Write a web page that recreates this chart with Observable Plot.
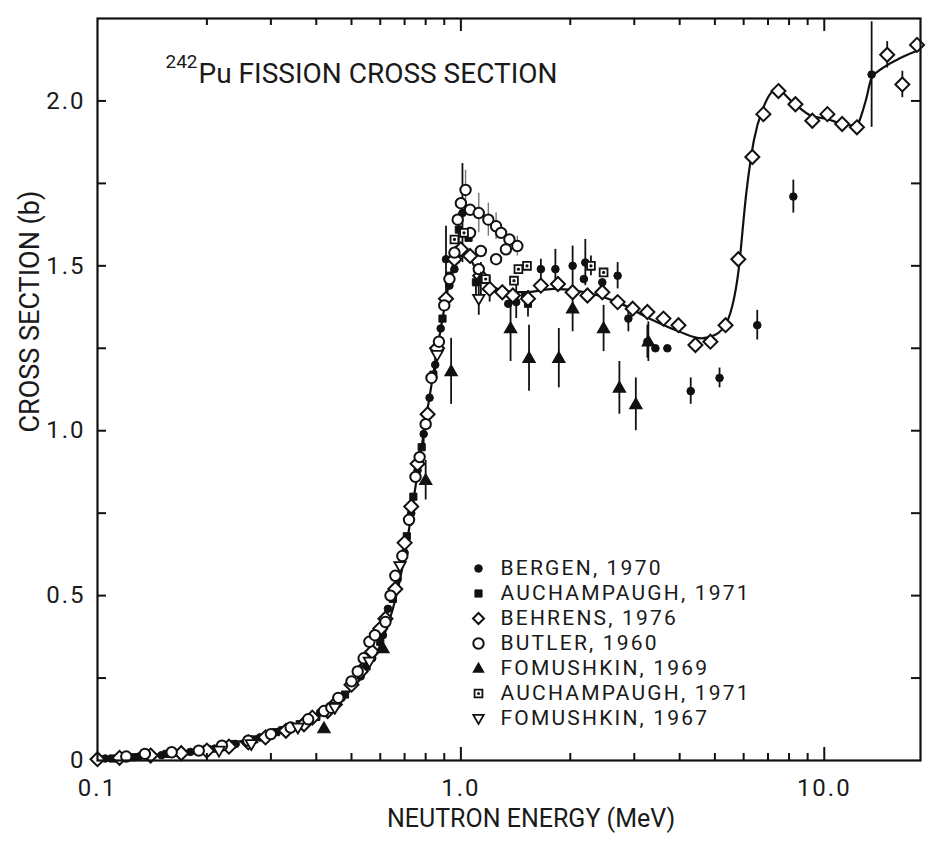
<!DOCTYPE html>
<html>
<head>
<meta charset="utf-8">
<script src="https://cdn.jsdelivr.net/npm/d3@7"></script>
<script src="https://cdn.jsdelivr.net/npm/@observablehq/plot@0.6"></script>
<style>
  html, body { margin: 0; padding: 0; background: #fff; }
  #chart svg text { font-family: Roboto, "DejaVu Sans", sans-serif; fill: #1a1a1a; }
  #chart svg g[aria-label$="axis"] text, #chart svg g[aria-label*="tick label"] text { font-size: 24px; letter-spacing: 2px; }
</style>
</head>
<body>
<div id="chart"></div>
<script>
// ---- Evaluated curve (solid line) ----
const curveE = [0.1,0.12,0.14,0.17,0.2,0.25,0.3,0.35,0.4,0.45,0.5,0.55,0.6,0.65,0.7,0.75,0.8,0.85,0.9,0.95,1.0,1.05,1.1,1.2,1.3,1.5,1.8,2.2,2.7,3.3,4.0,4.6,5.0,5.4,5.8,6.1,6.4,6.8,7.4,8.2,9.2,10.2,11.2,12.2,13.0,13.5,14.5,16.2,18.3];
const curveS = [0.005,0.010,0.016,0.026,0.038,0.060,0.082,0.108,0.140,0.175,0.215,0.275,0.35,0.46,0.62,0.83,1.03,1.21,1.37,1.50,1.55,1.53,1.49,1.445,1.425,1.42,1.43,1.42,1.39,1.34,1.30,1.28,1.29,1.33,1.48,1.72,1.88,1.98,2.035,1.995,1.955,1.945,1.93,1.925,2.0,2.07,2.10,2.13,2.155];

// ---- Measured data: [energy MeV, cross section b, error b] ----
const bergen1970 = [[0.105,0.006,0],[0.13,0.012,0],[0.15,0.016,0],[0.18,0.026,0],[0.21,0.036,0],[0.24,0.05,0],[0.28,0.07,0],[0.32,0.092,0],[0.37,0.118,0],[0.41,0.146,0],[0.47,0.19,0],[0.53,0.255,0],[0.57,0.31,0],[0.61,0.38,0],[0.63,0.46,0],[0.67,0.55,0],[0.7,0.63,0.03],[0.73,0.75,0.04],[0.76,0.88,0],[0.79,0.99,0.04],[0.82,1.1,0],[0.85,1.2,0.04],[0.88,1.31,0],[0.91,1.52,0.1],[0.93,1.44,0],[0.96,1.49,0],[0.98,1.55,0],[1.01,1.66,0.15],[1.35,1.385,0],[1.42,1.39,0.05],[1.5,1.41,0],[1.66,1.49,0.03],[1.82,1.49,0.06],[2.03,1.50,0.06],[2.2,1.51,0.07],[2.18,1.46,0],[2.45,1.45,0],[2.7,1.47,0.04],[2.89,1.34,0.04],[3.26,1.27,0.05],[3.43,1.25,0],[3.7,1.25,0],[4.29,1.12,0.04],[5.15,1.16,0.03],[6.54,1.32,0.045],[7.48,2.03,0],[8.22,1.71,0.05],[13.5,2.08,0.16]];
const auchampaugh1971a = [[0.11,0.006,0],[0.125,0.01,0],[0.155,0.02,0],[0.2,0.035,0],[0.235,0.05,0],[0.27,0.064,0],[0.31,0.086,0],[0.36,0.11,0],[0.4,0.132,0],[0.48,0.2,0],[0.55,0.285,0],[0.6,0.36,0],[0.65,0.49,0],[0.71,0.68,0],[0.74,0.8,0],[0.78,0.95,0],[0.84,1.17,0],[0.89,1.34,0],[0.93,1.47,0],[0.97,1.52,0],[0.987,1.61,0.05],[1.05,1.585,0],[1.1,1.45,0.04],[1.2,1.43,0.04],[1.53,1.385,0.04]];
const behrens1976 = [[0.1,0.004,0],[0.115,0.008,0],[0.14,0.015,0],[0.17,0.022,0],[0.2,0.03,0],[0.23,0.042,0],[0.26,0.055,0],[0.29,0.07,0],[0.33,0.09,0],[0.37,0.11,0],[0.39,0.13,0],[0.43,0.15,0],[0.45,0.17,0],[0.5,0.23,0],[0.53,0.27,0],[0.57,0.33,0],[0.6,0.4,0],[0.62,0.43,0],[0.66,0.52,0],[0.7,0.66,0],[0.73,0.77,0],[0.76,0.9,0],[0.81,1.05,0],[0.86,1.25,0],[0.91,1.4,0],[0.96,1.52,0],[1.0,1.55,0],[1.06,1.53,0],[1.13,1.47,0],[1.2,1.43,0],[1.3,1.42,0],[1.39,1.41,0],[1.53,1.40,0],[1.66,1.44,0],[1.85,1.445,0],[2.03,1.42,0],[2.23,1.41,0],[2.45,1.42,0],[2.7,1.39,0],[2.97,1.37,0],[3.26,1.36,0],[3.61,1.34,0],[3.97,1.32,0],[4.42,1.26,0],[4.86,1.27,0],[5.35,1.32,0],[5.8,1.52,0],[6.34,1.83,0],[6.8,1.96,0],[7.48,2.03,0],[8.33,1.99,0],[9.27,1.94,0],[10.2,1.96,0],[11.2,1.93,0],[12.3,1.92,0],[14.9,2.14,0.04],[16.4,2.05,0.04],[18.0,2.17,0]];
const butler1960 = [[0.12,0.012,0],[0.135,0.02,0],[0.16,0.025,0],[0.19,0.03,0],[0.22,0.045,0],[0.26,0.06,0],[0.3,0.08,0],[0.34,0.1,0],[0.38,0.125,0],[0.42,0.15,0],[0.44,0.16,0],[0.46,0.19,0],[0.5,0.24,0],[0.52,0.27,0],[0.54,0.31,0],[0.56,0.36,0],[0.58,0.38,0],[0.62,0.42,0],[0.64,0.5,0],[0.66,0.56,0],[0.69,0.62,0],[0.72,0.73,0],[0.75,0.86,0],[0.77,0.92,0],[0.8,1.02,0],[0.83,1.16,0],[0.87,1.27,0],[0.9,1.38,0],[0.93,1.46,0],[0.96,1.54,0],[0.98,1.64,0],[1.0,1.69,0],[1.03,1.73,0.06],[1.06,1.67,0],[1.12,1.66,0.06],[1.19,1.64,0.05],[1.25,1.62,0.04],[1.29,1.60,0],[1.36,1.58,0],[1.43,1.56,0.03],[1.33,1.55,0],[1.25,1.52,0],[1.135,1.545,0],[1.12,1.49,0],[1.06,1.60,0]];
const fomushkin1969 = [[0.42,0.097,0],[0.61,0.34,0],[0.8,0.85,0.06],[0.94,1.18,0.1],[1.135,1.46,0.05],[1.37,1.31,0.1],[1.54,1.22,0.1],[1.86,1.22,0.09],[2.03,1.37,0.07],[2.47,1.31,0.07],[2.73,1.13,0.08],[3.03,1.08,0.08],[3.28,1.27,0.06]];
const auchampaugh1971b = [[0.96,1.58,0],[1.02,1.60,0],[1.17,1.46,0],[1.40,1.455,0],[1.44,1.49,0],[1.52,1.50,0],[2.28,1.50,0.03],[2.47,1.48,0]];
const fomushkin1967 = [[0.216,0.03,0],[0.265,0.05,0],[0.356,0.1,0],[0.45,0.16,0],[0.56,0.3,0],[0.68,0.59,0],[0.86,1.23,0],[1.12,1.40,0.05]];

// ---- Legend and axis text ----
const legendLabels = ["BERGEN, 1970","AUCHAMPAUGH, 1971","BEHRENS, 1976","BUTLER, 1960","FOMUSHKIN, 1969","AUCHAMPAUGH, 1971","FOMUSHKIN, 1967"];
const xLabelTicks = [0.1, 1, 10];
const xMajorTicks = [1, 10];
const xMinorTicks = [0.2,0.3,0.4,0.5,0.6,0.7,0.8,0.9,2,3,4,5,6,7,8,9];
const yLabelTicks = [0, 0.5, 1.0, 1.5, 2.0];
const yAllTicks = [0.25,0.5,0.75,1.0,1.25,1.5,1.75,2.0];
const titleIso = "242";
const titleMain = "Pu FISSION CROSS SECTION";
const xTitle = "NEUTRON ENERGY (MeV)";
const yTitle = "CROSS SECTION (b)";

// ---- layout ----
const W = 933, H = 843;
const mL = 97, mR = 13, mT = 18, mB = 83;
const xDomain = [0.1, 18.4], yDomain = [0, 2.25];
const xs = d3.scaleLog(xDomain, [mL, W - mR]);
const ys = d3.scaleLinear(yDomain, [H - mB, mT]);
const pxY = (p) => (yDomain[1] - yDomain[0]) / (H - mB - mT) * p; // px -> y units
const pxXfac = (p) => Math.pow(xDomain[1] / xDomain[0], p / (W - mR - mL)); // px -> x factor

// ---- symbols ----
const rOf = (size) => Math.sqrt(size / Math.PI);
const diamondSym = {draw(c, s){const r=rOf(s); c.moveTo(0,-r); c.lineTo(r,0); c.lineTo(0,r); c.lineTo(-r,0); c.closePath();}};
const squareSym = {draw(c, s){const r=rOf(s)*0.85; c.rect(-r,-r,2*r,2*r);}};
const triUpSym = {draw(c, s){const r=rOf(s); c.moveTo(0,-r); c.lineTo(r*0.95,r*0.65); c.lineTo(-r*0.95,r*0.65); c.closePath();}};
const triDownSym = {draw(c, s){const r=rOf(s); c.moveTo(0,r); c.lineTo(r*0.95,-r*0.65); c.lineTo(-r*0.95,-r*0.65); c.closePath();}};

const series = [
  {data: bergen1970, symbol: "circle", r: 3.8, fill: "#111", stroke: "#111", sw: 1},
  {data: auchampaugh1971a, symbol: squareSym, r: 4.2, fill: "#111", stroke: "#111", sw: 1},
  {data: behrens1976, symbol: diamondSym, r: 7, fill: "white", stroke: "#111", sw: 2},
  {data: butler1960, symbol: "circle", r: 5.2, fill: "white", stroke: "#111", sw: 2},
  {data: fomushkin1969, symbol: triUpSym, r: 6.5, fill: "#111", stroke: "#111", sw: 1.2},
  {data: auchampaugh1971b, symbol: squareSym, r: 4.6, fill: "white", stroke: "#111", sw: 1.8, dot: true},
  {data: fomushkin1967, symbol: triDownSym, r: 6, fill: "white", stroke: "#111", sw: 1.8}
];

const marks = [];
// error bars
series.forEach((s, i) => {
  marks.push(Plot.ruleX(s.data.filter(d => d[2] > 0), {
    x: d => d[0], y1: d => d[1] - d[2], y2: d => d[1] + d[2],
    stroke: i === 3 ? "#777" : "#111", strokeWidth: i === 3 ? 1.4 : 1.8
  }));
});
// evaluated curve
marks.push(Plot.line(curveE.map((e, i) => [e, curveS[i]]), {x: d => d[0], y: d => d[1], curve: "monotone-x", stroke: "#111", strokeWidth: 2.2}));
// data symbols
series.forEach(s => {
  marks.push(Plot.dot(s.data, {x: d => d[0], y: d => d[1], symbol: s.symbol, r: s.r, fill: s.fill, stroke: s.stroke, strokeWidth: s.sw}));
  if (s.dot) marks.push(Plot.dot(s.data, {x: d => d[0], y: d => d[1], r: 1.6, fill: "#111"}));
});

// ticks (inward) on all four sides
const tMaj = 13, tMin = 7, tY = 9;
marks.push(Plot.ruleX(xMajorTicks, {x: d => d, y1: yDomain[0], y2: yDomain[0] + pxY(tMaj), stroke: "#111", strokeWidth: 2}));
marks.push(Plot.ruleX(xMinorTicks, {x: d => d, y1: yDomain[0], y2: yDomain[0] + pxY(tMin), stroke: "#111", strokeWidth: 2}));
marks.push(Plot.ruleX(xMajorTicks, {x: d => d, y1: yDomain[1], y2: yDomain[1] - pxY(tMaj), stroke: "#111", strokeWidth: 2}));
marks.push(Plot.ruleX(xMinorTicks, {x: d => d, y1: yDomain[1], y2: yDomain[1] - pxY(tMin), stroke: "#111", strokeWidth: 2}));
marks.push(Plot.ruleY(yAllTicks, {y: d => d, x1: xDomain[0], x2: xDomain[0] * pxXfac(tY), stroke: "#111", strokeWidth: 2}));
marks.push(Plot.ruleY(yAllTicks, {y: d => d, x1: xDomain[1], x2: xDomain[1] / pxXfac(tY), stroke: "#111", strokeWidth: 2}));
marks.push(Plot.frame({stroke: "#111", strokeWidth: 2.2}));

// title inside plot
marks.push(Plot.text([titleIso], {frameAnchor: "top-left", dx: 68, dy: 49, textAnchor: "start", lineAnchor: "bottom", fontSize: 19}));
marks.push(Plot.text([titleMain], {frameAnchor: "top-left", dx: 101, dy: 64, textAnchor: "start", lineAnchor: "bottom", fontSize: 28}));
// axis titles
marks.push(Plot.text([xTitle], {frameAnchor: "bottom", dx: 22, dy: 66, lineAnchor: "bottom", fontSize: 25}));
marks.push(Plot.text([yTitle], {frameAnchor: "left", dx: -67, dy: 43, rotate: -90, lineAnchor: "middle", fontSize: 27}));

// legend
const legX = xs.invert(478), legTX = xs.invert(500);
const legY = legendLabels.map((_, i) => ys.invert(568 + 25 * i));
series.forEach((s, i) => {
  marks.push(Plot.dot([i], {x: () => legX, y: () => legY[i], symbol: s.symbol, r: Math.min(s.r, 5.5), fill: s.fill, stroke: s.stroke, strokeWidth: s.sw}));
  if (s.dot) marks.push(Plot.dot([i], {x: () => legX, y: () => legY[i], r: 1.5, fill: "#111"}));
});
marks.push(Plot.text(legendLabels, {x: () => legTX, y: (d, i) => legY[i], textAnchor: "start", lineAnchor: "middle", fontSize: 21}));

const chart = Plot.plot({
  width: W, height: H,
  marginLeft: mL, marginRight: mR, marginTop: mT, marginBottom: mB,
  style: {fontFamily: "Roboto, 'DejaVu Sans', sans-serif", fontSize: "24px", background: "white", color: "#1a1a1a"},
  x: {type: "log", domain: xDomain, ticks: xLabelTicks, tickFormat: d => d.toFixed(1), tickSize: 0, tickPadding: 18, label: null},
  y: {domain: yDomain, ticks: yLabelTicks, tickFormat: d => d === 0 ? "0" : d.toFixed(1), tickSize: 0, tickPadding: 12, label: null},
  marks
});
// widen legend lettering to match the reference's spacing
d3.select(chart).selectAll("text").filter(function() { return legendLabels.includes(this.textContent); })
  .style("letter-spacing", "2.2px");
document.getElementById("chart").appendChild(chart);
</script>
</body>
</html>
